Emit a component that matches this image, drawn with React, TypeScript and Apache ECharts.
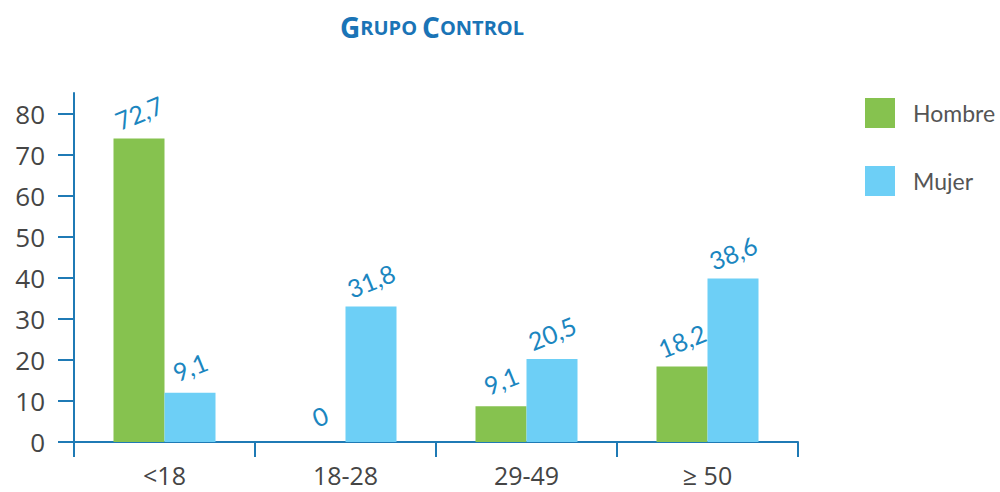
import React, { useEffect, useRef } from "react";
import * as echarts from "echarts";

const categories = ["<18", "18-28", "29-49", "≥ 50"];
const hombreValues = [73.9, 0, 8.7, 18.4];
const mujerValues = [12.0, 33.0, 20.2, 39.8];
const hombreLabels = ["72,7", "0", "9,1", "18,2"];
const mujerLabels = ["9,1", "31,8", "20,5", "38,6"];
const yTicks = [0, 10, 20, 30, 40, 50, 60, 70, 80];

const GREEN = "#86c24f";
const BLUE = "#6dcff6";
const LABEL_BLUE = "#1b86c0";
const AXIS_BLUE = "#1f7ab5";
const TEXT = "#454545";
const FONT = "'Open Sans', 'Noto Sans', sans-serif";
const NARROW = "Lato, 'Open Sans', sans-serif";

export default function App() {
  const ref = useRef<HTMLDivElement>(null);
  useEffect(() => {
    document.body.style.margin = "0";
    const chart = echarts.init(ref.current!, undefined, { renderer: "svg" });
    const labelCfg = (labels: string[]) => ({
      show: true,
      position: "top" as const,
      distance: 26,
      rotate: 22,
      align: "center",
      verticalAlign: "middle",
      color: LABEL_BLUE,
      fontFamily: NARROW,
      fontSize: 25,
      formatter: (p: any) => labels[p.dataIndex],
    });
    chart.setOption({
      animation: false,
      title: {
        text: "{b|G}{s|RUPO} {b|C}{s|ONTROL}",
        left: 335,
        top: 8,
        textStyle: {
          rich: {
            b: { fontSize: 28, fontWeight: "bold", color: "#1a74b6", fontFamily: FONT },
            s: { fontSize: 20, fontWeight: "bold", color: "#1a74b6", fontFamily: FONT },
          },
        },
      },
      legend: {
        orient: "vertical",
        left: 865,
        top: 98,
        padding: 0,
        itemWidth: 30,
        itemHeight: 30,
        itemGap: 38,
        icon: "rect",
        textStyle: { fontSize: 23, color: "#555", fontFamily: NARROW, padding: [0, 0, 0, 13] },
        data: ["Hombre", "Mujer"],
      },
      grid: { left: 74, right: 202, top: 93, bottom: 50, containLabel: false },
      xAxis: {
        type: "category",
        data: categories,
        axisLine: { lineStyle: { color: AXIS_BLUE, width: 2 } },
        axisTick: { show: true, length: 15, lineStyle: { color: AXIS_BLUE, width: 2 } },
        axisLabel: { fontSize: 25, lineHeight: 25, color: TEXT, fontFamily: FONT, margin: 20 },
      },
      yAxis: {
        type: "value",
        min: 0,
        max: 85,
        interval: 10,
        splitLine: { show: false },
        axisLine: { show: true, lineStyle: { color: AXIS_BLUE, width: 2 } },
        axisTick: { show: true, length: 16, customValues: yTicks, lineStyle: { color: AXIS_BLUE, width: 2 } },
        axisLabel: { fontSize: 26, color: TEXT, fontFamily: FONT, margin: 29, customValues: yTicks },
      },
      series: [
        {
          name: "Hombre",
          type: "bar",
          data: hombreValues,
          barWidth: 51,
          barGap: "0%",
          itemStyle: { color: GREEN },
          label: labelCfg(hombreLabels),
        },
        {
          name: "Mujer",
          type: "bar",
          data: mujerValues,
          barWidth: 51,
          barGap: "0%",
          itemStyle: { color: BLUE },
          label: labelCfg(mujerLabels),
        },
      ],
    });
    return () => chart.dispose();
  }, []);
  return <div ref={ref} style={{ width: 1000, height: 492 }} />;
}
